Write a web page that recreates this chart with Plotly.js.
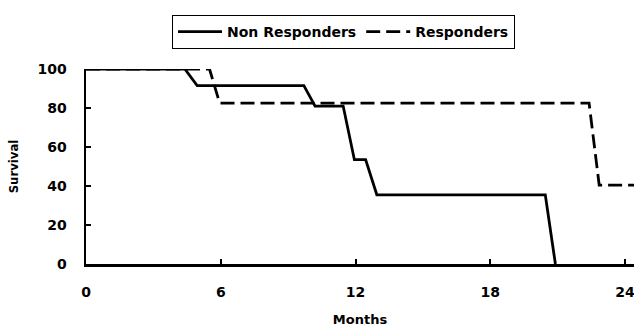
<!DOCTYPE html>
<html><head><meta charset="utf-8">
<script src="https://cdn.plot.ly/plotly-3.0.1.min.js"></script>
<style>body{margin:0;background:#fff}#c{width:634px;height:333px}</style>
</head><body><div id="c"></div>
<script>
const nonRespMonths = [0, 4.4, 4.95, 9.7, 10.2, 11.45, 11.95, 12.45, 12.95, 20.45, 20.9];
const nonRespSurv   = [100, 100, 91.5, 91.5, 81, 81, 53.5, 53.5, 35.5, 35.5, 0];
const respMonths = [0, 5.5, 5.95, 22.4, 22.85, 24.6];
const respSurv   = [100, 100, 82.5, 82.5, 40.5, 40.5];
const xTicks = [0, 6, 12, 18, 24];
const yTicks = [0, 20, 40, 60, 80, 100];

const fnt = {family: 'DejaVu Sans, sans-serif', size: 14, color: '#000', weight: 'bold'};
const data = [
  {x: nonRespMonths, y: nonRespSurv, name: 'Non Responders', mode: 'lines',
   line: {color: '#000', width: 2.8}, cliponaxis: false},
  {x: respMonths, y: respSurv, name: 'Responders', mode: 'lines',
   line: {color: '#000', width: 2.8, dash: '14px,6px'}, cliponaxis: false}
];
const layout = {
  width: 634, height: 333,
  margin: {l: 86, r: 0, t: 69, b: 69, autoexpand: false},
  paper_bgcolor: '#fff', plot_bgcolor: '#fff',
  font: fnt,
  showlegend: true,
  legend: {orientation: 'h', x: 0.157, xanchor: 'left', y: 1.277, yanchor: 'top',
    bordercolor: '#000', borderwidth: 1, font: fnt, itemwidth: 44, tracegroupgap: 0},
  xaxis: {range: [0, 24.4], tickvals: xTicks, ticktext: xTicks.map(String),
    showgrid: false, zeroline: false, showline: true, linecolor: '#000', linewidth: 2.5,
    ticks: 'inside', ticklen: 5, tickwidth: 2, tickcolor: '#000', ticklabelstandoff: 14,
    ticklabeloverflow: 'allow',
    tickfont: fnt, title: {text: 'Months', font: {family: fnt.family, size: 13, color: '#000', weight: 'bold'}, standoff: 16}},
  yaxis: {range: [0, 100], tickvals: yTicks, ticktext: yTicks.map(String),
    showgrid: false, zeroline: false, showline: true, linecolor: '#000', linewidth: 2.5,
    ticks: 'inside', ticklen: 5, tickwidth: 2, tickcolor: '#000', ticklabelstandoff: 14,
    tickfont: fnt, title: {text: 'Survival', font: {family: 'DejaVu Sans Condensed, DejaVu Sans, sans-serif', size: 13, color: '#000', weight: 'bold'}, standoff: 16}}
};
Plotly.newPlot('c', data, layout, {displayModeBar: false, staticPlot: true});
</script></body></html>
